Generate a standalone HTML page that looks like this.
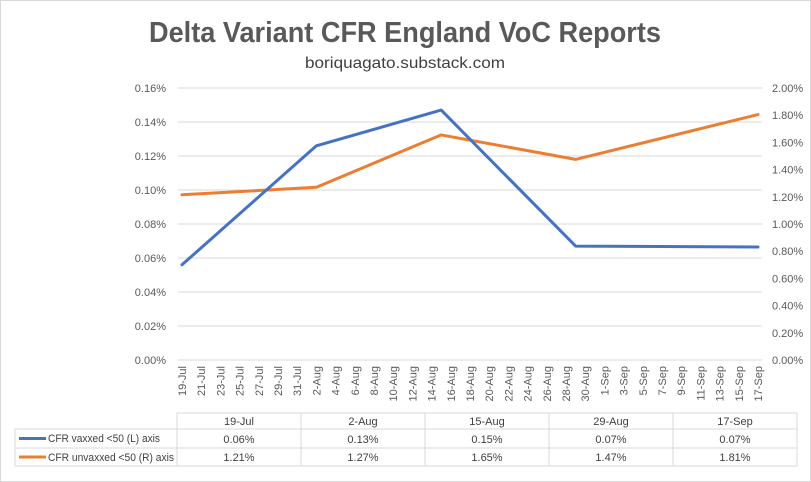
<!DOCTYPE html>
<html><head><meta charset="utf-8"><style>
html,body{margin:0;padding:0;background:#fff;}
svg{display:block;font-family:"Liberation Sans",sans-serif;}
</style></head><body>
<svg id="chart" width="811" height="482" viewBox="0 0 811 482">
<rect x="0.5" y="0.5" width="810" height="481" fill="#fff" stroke="#d9d9d9"/>
<text x="405" y="42" text-anchor="middle" font-size="29" font-weight="bold" fill="#595959" textLength="512" lengthAdjust="spacingAndGlyphs">Delta Variant CFR England VoC Reports</text>
<text x="405" y="68" text-anchor="middle" font-size="16" fill="#404040" textLength="200" lengthAdjust="spacingAndGlyphs">boriquagato.substack.com</text>
<g id="grid"></g><g id="axes"></g><g id="lines"></g><g id="table"></g>
</svg>
<script>
const reportDates = ["19-Jul","2-Aug","15-Aug","29-Aug","17-Sep"];
const reportDays = [0, 14, 27, 41, 60];
const vaxxed = [0.056, 0.126, 0.147, 0.067, 0.0665];
const unvaxxed = [1.215, 1.27, 1.655, 1.475, 1.805];
const vaxxedLabels = ["0.06%","0.13%","0.15%","0.07%","0.07%"];
const unvaxxedLabels = ["1.21%","1.27%","1.65%","1.47%","1.81%"];
const leftTicks = [0,0.02,0.04,0.06,0.08,0.10,0.12,0.14,0.16];
const rightTicks = [0,0.2,0.4,0.6,0.8,1.0,1.2,1.4,1.6,1.8,2.0];
const NS="http://www.w3.org/2000/svg";
const X0=182, X1=758, YB=360, YT=88;
const xScale=d=>X0+(X1-X0)*d/60;
const yL=v=>YB-(YB-YT)*v/0.16;
const yR=v=>YB-(YB-YT)*v/2.0;
function mk(tag,attrs,parent,txt){const e=document.createElementNS(NS,tag);for(const k in attrs)e.setAttribute(k,attrs[k]);if(txt!==undefined)e.textContent=txt;parent.appendChild(e);return e;}
const grid=document.getElementById('grid'),axes=document.getElementById('axes'),lines=document.getElementById('lines'),table=document.getElementById('table');
leftTicks.forEach(t=>{
  const g=mk('line',{x1:178,x2:762,y1:yL(t),y2:yL(t),stroke:'#d9d9d9','stroke-width':1},grid);
  
  
  const l=mk('text',{x:166,y:yL(t)+4,'text-anchor':'end','font-size':11,fill:'#595959'},axes,t.toFixed(2)+'%');
  
  
});
rightTicks.forEach(t=>{
  const l=mk('text',{x:772,y:yR(t)+4,'text-anchor':'start','font-size':11,fill:'#595959'},axes,t.toFixed(2)+'%');
  
  
});
const months=["Jul","Aug","Sep"];
for(let d=0;d<=60;d+=2){
  const date=new Date(2021,6,19+d);
  const lab=date.getDate()+'-'+months[date.getMonth()-6];
  const x=xScale(d);
  const t=mk('text',{x:0,y:0,'text-anchor':'end','font-size':11,fill:'#595959',transform:`translate(${x+4},366) rotate(-90)`},axes,lab);
  
  
}
function series(vals,yf,color,name){
  const p=mk('polyline',{points:vals.map((v,i)=>xScale(reportDays[i])+','+yf(v)).join(' '),fill:'none',stroke:color,'stroke-width':3,'stroke-linejoin':'round','stroke-linecap':'round'},lines);
  
  
}
series(unvaxxed,yR,'#ed7d31','line-unvaxxed');
series(vaxxed,yL,'#4472c4','line-vaxxed');
const colX=[177,301,425,549,673,797];
const tc='#d9d9d9';
mk('line',{x1:177,x2:797,y1:413,y2:413,stroke:tc},table);
[429,448,466].forEach(y=>mk('line',{x1:15,x2:797,y1:y,y2:y,stroke:tc},table));
mk('line',{x1:15,x2:15,y1:429,y2:466,stroke:tc},table);
colX.forEach(x=>mk('line',{x1:x,x2:x,y1:413,y2:466,stroke:tc},table));
reportDates.forEach((d,i)=>{
  const cx=(colX[i]+colX[i+1])/2;
  const h=mk('text',{x:cx,y:425,'text-anchor':'middle','font-size':11,fill:'#404040'},table,d);
  
  
  const a=mk('text',{x:cx,y:443,'text-anchor':'middle','font-size':11,fill:'#404040'},table,vaxxedLabels[i]);
  
  
  const b=mk('text',{x:cx,y:461,'text-anchor':'middle','font-size':11,fill:'#404040'},table,unvaxxedLabels[i]);
  
  
});
const k1=mk('line',{x1:19,x2:46,y1:438.5,y2:438.5,stroke:'#4472c4','stroke-width':3},table);


const k2=mk('line',{x1:19,x2:46,y1:457,y2:457,stroke:'#ed7d31','stroke-width':3},table);


const t1=mk('text',{x:48,y:442,'font-size':11,fill:'#404040',textLength:112,lengthAdjust:'spacingAndGlyphs'},table,'CFR vaxxed <50 (L) axis');


const t2=mk('text',{x:48,y:461,'font-size':11,fill:'#404040',textLength:126,lengthAdjust:'spacingAndGlyphs'},table,'CFR unvaxxed <50 (R) axis');


</script>
</body></html>
